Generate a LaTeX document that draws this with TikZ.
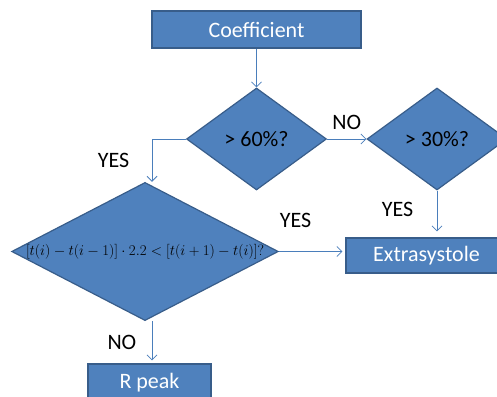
\documentclass[tikz,border=0pt]{standalone}
\usepackage{fontspec}
\setmainfont{Carlito}
\usetikzlibrary{shapes.geometric, arrows.meta}
\definecolor{boxfill}{HTML}{4F81BD}
\definecolor{boxline}{HTML}{385D8A}
\definecolor{arrowline}{HTML}{4A7EBB}

\begin{document}
\begin{tikzpicture}
        [x=1pt, y=-1pt, font=\fontsize{22}{26}\selectfont,
        block/.style={rectangle, draw=boxline, fill=boxfill, line width=1.2pt, text=white, inner sep=0pt},
        decision/.style={diamond, draw=boxline, fill=boxfill, line width=1.2pt, inner sep=0pt, text=black},
        edge/.style={arrowline, line width=0.8pt, -{Straight Barb[length=5pt, width=10pt]}},
        answer/.style={text=black}]

        \useasboundingbox (0,0) rectangle (497,396);

        % boxes
        \node[block, minimum width=209pt, minimum height=37pt] (coef) at (256.5,29.5) {Coefficient};
        \node[block, minimum width=161pt, minimum height=35pt] (extra) at (426.5,255.5) {Extrasystole};
        \node[block, minimum width=123pt, minimum height=37pt] (rpeak) at (149.5,382.5) {R peak};

        % decisions
        \node[decision, minimum width=140pt, minimum height=102pt] (high) at (256.5,139) {> 60\%?};
        \node[decision, minimum width=140pt, minimum height=102pt] (low) at (437,139) {> 30\%?};
        \node[decision, aspect=1.93, minimum width=265pt, minimum height=137pt] (ratio) at (145,251.5)
            {\resizebox{238pt}{!}{$[t(i)-t(i-1)]\cdot 2.2<[t(i+1)-t(i)]?$}};

        % connectors
        \draw[edge] (coef) -- (high);
        \draw[edge] (high) -- (low) node[answer, midway, above=6pt] {NO};
        \draw[edge] (high.west) -| ([xshift=7pt]ratio.north) node[answer, pos=0.75, left=19pt] {YES};
        \draw[edge, shorten >=3pt] (ratio.east) -- (ratio.east -| extra.west) node[answer, pos=0.25, above=20pt] {YES};
        \draw[edge, shorten >=6pt] (low.south) -- (low.south |- extra.north) node[answer, pos=0.4, left=20pt] {YES};
        \draw[edge, shorten >=3pt] ([xshift=7pt]ratio.south) -- ([xshift=7pt]ratio.south |- rpeak.north) node[answer, midway, left=12pt] {NO};

        \end{tikzpicture}
\end{document}
